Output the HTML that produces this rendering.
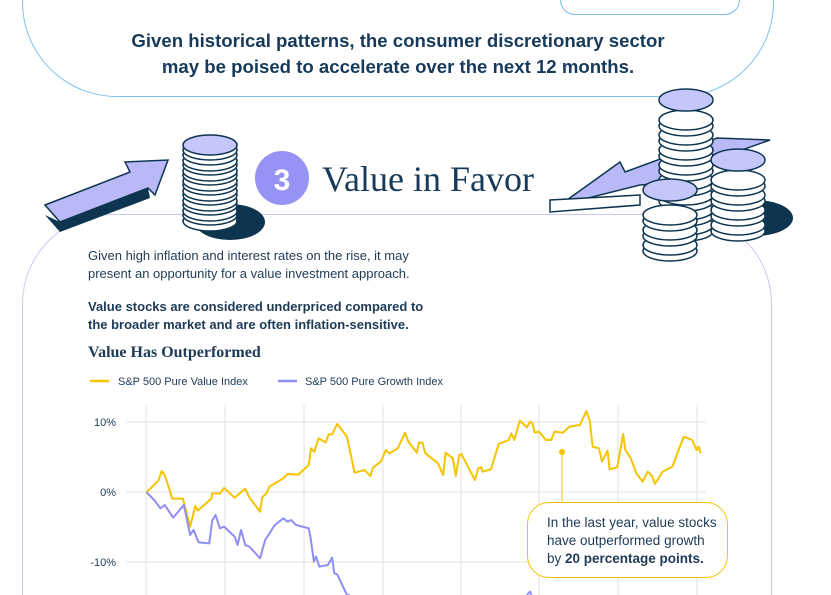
<!DOCTYPE html>
<html style="overflow:hidden"><head><style>
html,body{margin:0;width:831px;height:595px;overflow:hidden}
body{background:#fff;font-family:"Liberation Sans",sans-serif;color:#1d3a56;position:relative}
.a{position:absolute}
</style></head><body>
<div class="a" style="left:22px;top:0;width:750px;height:96px;border:1px solid #7cc0f0;border-radius:0 0 95px 95px;border-top:none"></div>
<div class="a" style="left:560px;top:0;width:178px;height:14px;border:1px solid #7cc0f0;border-radius:0 0 16px 16px;border-top:none"></div>
<div class="a" style="left:0;width:796px;top:28px;text-align:center;font-weight:bold;font-size:18.6px;line-height:26px;color:#173a5a">Given historical patterns, the consumer discretionary sector<br>may be poised to accelerate over the next 12 months.</div>
<div class="a" style="left:22px;top:214px;width:750px;height:381px;border:1px solid #c9c8f5;border-bottom:none;border-radius:90px 90px 0 0;box-sizing:border-box"></div>
<svg class="a" style="left:0;top:0" width="831" height="595">
<defs><g id="coin"><ellipse cx="0" cy="6" rx="27" ry="10" fill="#fff" stroke="#0e3550" stroke-width="1.5"/><ellipse cx="0" cy="0" rx="27" ry="10" fill="#fff" stroke="#0e3550" stroke-width="1.5"/></g></defs>
<polygon points="45,205 130,172 125,162 168,160 155,195 148,188 60,222" fill="#b9b9f7" stroke="#0e3550" stroke-width="1.5"/>
<polygon points="45,215 60,222 148,188 150,198 60,232" fill="#0e3550"/>
<polygon points="770,140 680,172 684,182 640,185 560,205 620,162 625,172 717,138" fill="#b9b9f7" stroke="#0e3550" stroke-width="1.5"/>
<polygon points="550,200 640,195 640,205 550,212" fill="#fff" stroke="#0e3550" stroke-width="1.5"/>
<ellipse cx="230" cy="222" rx="35" ry="18" fill="#0e3550"/>
<g transform="translate(210,0)"><use href="#coin" y="215"/><use href="#coin" y="205"/><use href="#coin" y="195"/><use href="#coin" y="185"/><use href="#coin" y="175"/><use href="#coin" y="165"/><use href="#coin" y="155"/><ellipse cx="0" cy="150" rx="27" ry="10" fill="#fff" stroke="#0e3550" stroke-width="1.5"/><ellipse cx="0" cy="145" rx="27" ry="10" fill="#c5c6fa" stroke="#0e3550" stroke-width="1.5"/></g>
<ellipse cx="755" cy="218" rx="38" ry="18" fill="#0e3550"/>
<g transform="translate(686,0)"><use href="#coin" y="225"/><use href="#coin" y="210"/><use href="#coin" y="195"/><use href="#coin" y="180"/><use href="#coin" y="165"/><use href="#coin" y="150"/><use href="#coin" y="135"/><use href="#coin" y="120"/><ellipse cx="0" cy="100" rx="27" ry="11" fill="#c5c6fa" stroke="#0e3550" stroke-width="1.5"/></g>
<g transform="translate(738,0)"><use href="#coin" y="225"/><use href="#coin" y="210"/><use href="#coin" y="195"/><use href="#coin" y="180"/><ellipse cx="0" cy="160" rx="27" ry="11" fill="#c5c6fa" stroke="#0e3550" stroke-width="1.5"/></g>
<g transform="translate(670,0)"><use href="#coin" y="245"/><use href="#coin" y="230"/><use href="#coin" y="215"/><ellipse cx="0" cy="190" rx="27" ry="11" fill="#c5c6fa" stroke="#0e3550" stroke-width="1.5"/></g>
<circle cx="282" cy="178" r="27" fill="#9693f5"/>
<text x="282" y="190" text-anchor="middle" font-family="Liberation Sans" font-weight="bold" font-size="30" fill="#fff">3</text>
<text x="322" y="191" font-family="Liberation Serif" font-size="36" fill="#173a5a">Value in Favor</text>
<line x1="90" y1="381" x2="109" y2="381" stroke="#f5c400" stroke-width="2.5"/>
<text x="118" y="385" font-size="11" fill="#1d3a56">S&amp;P 500 Pure Value Index</text>
<line x1="278" y1="381" x2="297" y2="381" stroke="#8f8ef5" stroke-width="2.5"/>
<text x="305" y="385" font-size="11" fill="#1d3a56">S&amp;P 500 Pure Growth Index</text>
<g stroke="#e2e2e2" stroke-width="1">
<line x1="146" y1="405" x2="146" y2="595"/><line x1="225" y1="405" x2="225" y2="595"/><line x1="304" y1="405" x2="304" y2="595"/><line x1="383" y1="405" x2="383" y2="595"/><line x1="461" y1="405" x2="461" y2="595"/><line x1="539" y1="405" x2="539" y2="595"/><line x1="618" y1="405" x2="618" y2="595"/><line x1="697" y1="405" x2="697" y2="595"/>
<line x1="126" y1="422" x2="706" y2="422"/><line x1="126" y1="492" x2="706" y2="492"/><line x1="126" y1="562" x2="706" y2="562"/>
</g>
<g font-size="11" fill="#1d3a56" text-anchor="end"><text x="116" y="426">10%</text><text x="116" y="496">0%</text><text x="116" y="566">-10%</text></g>
<g transform="translate(80,390) scale(0.4237,0.3333)" fill="none" stroke-width="2" stroke-linejoin="round">
<polyline vector-effect="non-scaling-stroke" stroke="#f5c400" points="157,307 185,272 193,243 200,255 218,326 243,326 260,410 272,348 278,362 310,326 312,310 330,311 340,294 365,323 390,296 400,323 425,365 430,322 440,310 447,290 480,265 490,252 515,254 540,225 545,175 553,185 563,145 580,157 587,133 595,133 607,102 630,140 648,248 672,240 685,258 692,232 710,215 722,180 730,190 750,175 767,128 775,155 795,188 800,158 808,158 815,190 845,220 857,255 863,188 880,205 887,258 895,195 900,192 932,270 940,235 947,232 950,245 970,238 988,162 1012,150 1018,130 1025,150 1038,92 1055,112 1062,95 1068,100 1073,128 1083,125 1100,150 1112,150 1120,125 1140,128 1155,110 1180,105 1195,63 1203,92 1210,170 1225,175 1232,215 1245,182 1250,238 1268,232 1282,132 1287,180 1300,205 1313,250 1328,275 1340,245 1350,258 1357,282 1375,245 1383,240 1398,230 1425,140 1445,150 1455,180 1460,170 1465,190"/>
<polyline vector-effect="non-scaling-stroke" stroke="#8f8ef5" points="157,307 175,330 190,355 200,345 220,383 245,345 260,435 268,420 280,457 305,460 312,392 320,375 330,415 340,410 365,440 372,465 380,420 390,465 400,470 425,505 437,450 460,405 480,385 490,395 498,390 510,405 540,415 545,450 552,515 557,500 565,530 585,525 595,503 600,550 607,553 630,615 637,615"/>
<polyline vector-effect="non-scaling-stroke" stroke="#8f8ef5" points="1055,615 1062,605 1066,615"/>
</g>
<line x1="562" y1="452" x2="562" y2="502" stroke="#f5c400" stroke-width="1"/>
<circle cx="562" cy="452" r="3" fill="#f5c400"/>
</svg>
<div class="a" style="left:88px;top:247px;font-size:13px;line-height:18px;color:#1d3a56">Given high inflation and interest rates on the rise, it may<br>present an opportunity for a value investment approach.</div>
<div class="a" style="left:88px;top:298px;font-size:13px;line-height:18px;font-weight:bold;color:#1d3a56">Value stocks are considered underpriced compared to<br>the broader market and are often inflation-sensitive.</div>
<div class="a" style="left:88px;top:344px;font-family:'Liberation Serif',serif;font-weight:bold;font-size:16px;color:#1d3a56">Value Has Outperformed</div>
<div class="a" style="left:527px;top:502px;width:201px;height:76px;box-sizing:border-box;border:1px solid #f5c400;border-radius:22px;background:#fff;padding:11px 0 0 19px;font-size:13.5px;line-height:18px;color:#1d3a56">In the last year, value stocks<br>have outperformed growth<br>by <b>20 percentage points.</b></div>
</body></html>
